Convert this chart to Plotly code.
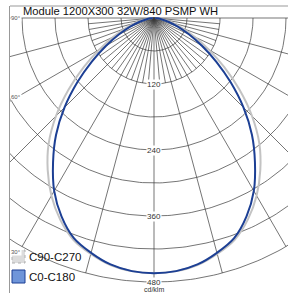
import numpy as np
import plotly.graph_objects as go

# ---- data (cd/klm) ----
angles = [0, 5, 10, 15, 20, 25, 30, 35, 40, 45, 50, 55, 60, 65, 70, 75, 80, 85, 90]
c0_c180 = [464, 462, 455, 442, 426, 398, 363, 320, 277, 230, 182, 138, 100, 70, 46, 28, 15, 7, 2]
c90_c270 = [464, 462, 456, 444, 429, 404, 373, 337, 298, 252, 203, 156, 115, 82, 56, 35, 18, 8, 2]
radial_ticks = [120, 240, 360, 480]
angle_labels = ["90°", "60°", "30°"]
title_text = "Module 1200X300 32W/840 PSMP WH"
series_names = ["C90-C270", "C0-C180"]
unit_text = "cd/klm"

RMAX = 480
W, H = 288, 293
ML, MT = 10, 6
POLE_X, POLE_Y = 154, 18
S = 264 / RMAX  # px per cd

xr = [(ML - POLE_X) / S, (W - POLE_X) / S]
yr = [-(H - POLE_Y) / S, (POLE_Y - MT) / S]


def to_xy(theta_deg, r):
    t = np.radians(np.asarray(theta_deg, dtype=float))
    r = np.asarray(r, dtype=float)
    return r * np.sin(t), -r * np.cos(t)


def px(xp):
    return (xp - POLE_X) / S


def py_(yp):
    return -(yp - POLE_Y) / S


fig = go.Figure()
GRID = "#3a3a3a"

# grid circles (lower half)
th = np.linspace(-90, 90, 181)
for rc in range(60, RMAX + 1, 60):
    x, y = to_xy(th, np.full_like(th, rc))
    fig.add_trace(go.Scatter(x=x, y=y, mode="lines", line=dict(color=GRID, width=0.7),
                             hoverinfo="skip", showlegend=False))

# radial lines
for a in range(-90, 91, 5):
    rend = RMAX if a % 15 == 0 else 120
    x, y = to_xy([a, a], [0, rend])
    fig.add_trace(go.Scatter(x=x, y=y, mode="lines", line=dict(color=GRID, width=0.7),
                             hoverinfo="skip", showlegend=False))

# curves (mirror both sides)
full_ang = [-a for a in angles[::-1]] + angles[1:]


def mirror(vals):
    return list(vals[::-1]) + list(vals[1:])


x, y = to_xy(full_ang, mirror(c90_c270))
fig.add_trace(go.Scatter(x=x, y=y, mode="lines", line=dict(color="#c3c3c3", width=2, shape="spline"),
                         name=series_names[0], showlegend=False))
x, y = to_xy(full_ang, mirror(c0_c180))
fig.add_trace(go.Scatter(x=x, y=y, mode="lines", line=dict(color="#1c3f94", width=2, shape="spline"),
                         name=series_names[1], showlegend=False))

# radial tick labels
for rt in radial_ticks:
    fig.add_annotation(x=0, y=-rt, text=str(rt), showarrow=False, bgcolor="white",
                       font=dict(size=8, color="#333", family="Liberation Sans"), borderpad=0)
fig.add_annotation(x=0, y=py_(289), text=unit_text, showarrow=False,
                   font=dict(size=7, color="#333", family="Liberation Sans"))

# angle labels
for lab, yp in zip(angle_labels, [18, 97, 252]):
    fig.add_annotation(x=px(16), y=py_(yp), text=lab, showarrow=False,
                       bgcolor="white", font=dict(size=6, color="#555", family="Liberation Sans"),
                       borderpad=0)

# title
fig.add_annotation(x=px(21), y=py_(11), text=title_text, showarrow=False,
                   xanchor="left", font=dict(size=11.2, color="#111", family="Liberation Sans"))

# legend boxes
fig.add_shape(type="rect", x0=px(12), x1=px(25), y0=py_(250), y1=py_(263),
              fillcolor="#dcdcdc", line=dict(color="#b0b0b0", width=1, dash="dot"))
fig.add_shape(type="rect", x0=px(12), x1=px(25), y0=py_(270), y1=py_(283),
              fillcolor="#6f95d9", line=dict(color="#1c3f94", width=1))
fig.add_annotation(x=px(27), y=py_(257), text=series_names[0], showarrow=False, xanchor="left",
                   font=dict(size=11.5, color="#111", family="Liberation Sans"))
fig.add_annotation(x=px(27), y=py_(277), text=series_names[1], showarrow=False, xanchor="left",
                   font=dict(size=11.5, color="#111", family="Liberation Sans"))

fig.update_layout(
    width=W, height=H, margin=dict(l=ML, r=0, t=MT, b=0),
    paper_bgcolor="white", plot_bgcolor="white",
    xaxis=dict(range=xr, visible=True, showgrid=False, zeroline=False, showticklabels=False,
               ticks="", showline=True, linecolor="#999", linewidth=1, mirror=False,
               fixedrange=True),
    yaxis=dict(range=yr, visible=True, showgrid=False, zeroline=False, showticklabels=False,
               ticks="", showline=True, linecolor="#999", linewidth=1, fixedrange=True),
    showlegend=False,
    hovermode=False,
)
fig.add_shape(type="line", xref="paper", yref="paper", x0=0, x1=1, y0=1, y1=1,
              line=dict(color="#999", width=1))
fig.write_html("out.html", config={"displayModeBar": False},
               post_script="document.body.style.margin='0px';document.body.style.overflow='hidden';")
